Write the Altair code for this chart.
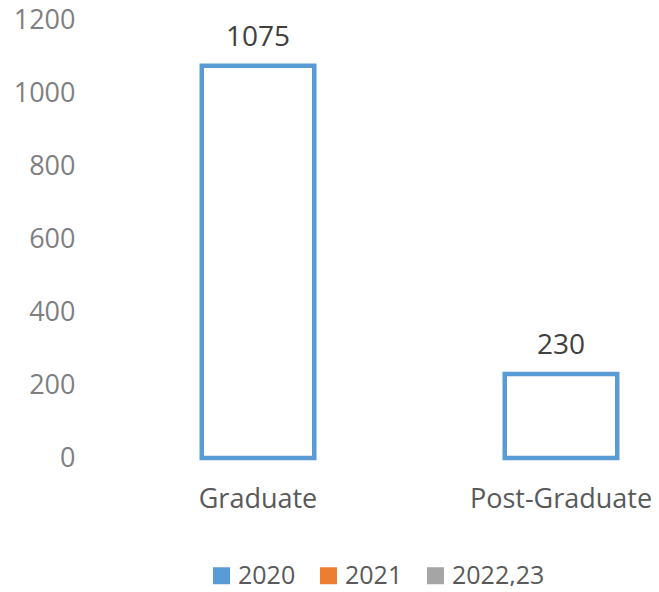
import altair as alt
import pandas as pd

categories = ["Graduate", "Post-Graduate"]
series = ["2020", "2021", "2022,23"]
values_2020 = [1075, 230]
values_2021 = [None, None]
values_2022_23 = [None, None]
colors = ["#5B9BD5", "#ED7D31", "#A5A5A5"]
y_ticks = [0, 200, 400, 600, 800, 1000, 1200]

rows = []
for s, vals in zip(series, [values_2020, values_2021, values_2022_23]):
    for c, v in zip(categories, vals):
        rows.append({"category": c, "series": s, "value": v})
df = pd.DataFrame(rows)

FONT = "Open Sans"

x_enc = alt.X(
    "category:N",
    sort=categories,
    scale=alt.Scale(domain=categories, range=[16.5, 622.5], paddingInner=0.6287, paddingOuter=0.31435),
    axis=alt.Axis(title=None, domain=False, ticks=False, labelAngle=0, labelFontSize=27, labelLimit=0,
                  labelFont=FONT, labelColor="#595959", labelPadding=28),
)
y_enc = alt.Y(
    "value:Q",
    scale=alt.Scale(domain=[0, 1200], nice=False),
    axis=alt.Axis(title=None, values=y_ticks, format="d", grid=False, domain=False, ticks=False,
                  labelFontSize=27, labelFont=FONT, labelColor="#7F7F7F", labelPadding=15),
)

base = alt.Chart(df)

bars = base.mark_bar(fill="white", stroke=colors[0], strokeWidth=4.5).encode(
    x=x_enc,
    y=y_enc,
)

labels = base.mark_text(dy=-20, baseline="alphabetic", fontSize=28, font=FONT, color="#404040").encode(
    x=x_enc,
    y=y_enc,
    text=alt.Text("value:Q"),
)

legend_layer = base.mark_square(filled=True, opacity=0, size=1).encode(
    x=x_enc,
    y=y_enc,
    color=alt.Color(
        "series:N",
        scale=alt.Scale(domain=series, range=colors),
        legend=alt.Legend(title=None, orient="none", legendX=119, legendY=543, direction="horizontal",
                          symbolType="square", symbolSize=289, symbolStrokeWidth=0, symbolOpacity=1,
                          labelFontSize=25, labelFont=FONT, labelColor="#595959",
                          columnPadding=20, labelOffset=4),
    ),
)

chart = alt.layer(bars, labels, legend_layer).properties(
    width=561,
    height=438,
    autosize=alt.AutoSizeParams(type="none"),
    padding={"left": 82, "top": 12, "right": 0, "bottom": 128},
).configure_view(stroke=None)

chart.save("out.html", embed_options={"renderer": "svg", "actions": False})
